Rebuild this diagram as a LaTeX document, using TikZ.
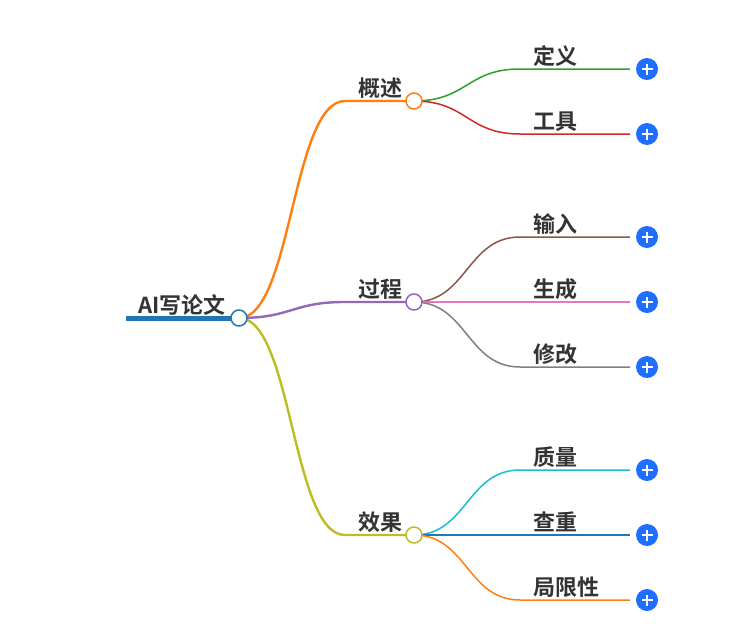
\documentclass[tikz,border=0pt]{standalone}
\usepackage{fontspec}
\setmainfont{Noto Sans CJK SC}[BoldFont={Noto Sans CJK SC Bold}]
\pgfdeclarelayer{links}
\pgfsetlayers{links,main}
\definecolor{c1}{HTML}{1F77B4}
\definecolor{c2}{HTML}{FF7F0E}
\definecolor{c3}{HTML}{2CA02C}
\definecolor{c4}{HTML}{D62728}
\definecolor{c5}{HTML}{9467BD}
\definecolor{c6}{HTML}{8C564B}
\definecolor{c7}{HTML}{E377C2}
\definecolor{c8}{HTML}{7F7F7F}
\definecolor{c9}{HTML}{BCBD22}
\definecolor{c10}{HTML}{17BECF}
\definecolor{btnblue}{HTML}{1E6FFF}
\definecolor{ink}{HTML}{333333}
\tikzset{
  joint/.style={circle,draw=#1,fill=white,line width=1.5pt,minimum size=16pt,inner sep=0pt},
  lab/.style={text=ink,font=\bfseries\fontsize{22}{22}\selectfont,inner sep=0pt},
  plusbtn/.style={circle,fill=btnblue,minimum size=22pt,inner sep=0pt,text=white,
    path picture={\draw[white,line width=2pt] ([xshift=-5.5pt]path picture bounding box.center)--([xshift=5.5pt]path picture bounding box.center);
      \draw[white,line width=2pt] ([yshift=-5.5pt]path picture bounding box.center)--([yshift=5.5pt]path picture bounding box.center);}},
  major/.style={line width=2.4pt,draw=#1},
  minor/.style={line width=1.5pt,draw=#1,shorten >=6pt},
}
\begin{document}
\begin{tikzpicture}[x=1pt,y=-1pt]
\useasboundingbox (0,0) rectangle (755,640);
% hubs
\node[joint=c1] (root) at (239,318) {};
\node[joint=c2] (gs) at (414,101) {};
\node[joint=c5] (gc) at (414,302) {};
\node[joint=c9] (xg) at (414,535) {};
% buttons
\node[plusbtn] (b1) at (647,69) {};
\node[plusbtn] (b2) at (647,134) {};
\node[plusbtn] (b3) at (647,237) {};
\node[plusbtn] (b4) at (647,302) {};
\node[plusbtn] (b5) at (647,367) {};
\node[plusbtn] (b6) at (647,470) {};
\node[plusbtn] (b7) at (647,535) {};
\node[plusbtn] (b8) at (647,600) {};
% free end and elbows
\coordinate (stem) at (126,318);
\coordinate (e1) at (345,101);
\coordinate (e2) at (345,302);
\coordinate (e3) at (345,535);
\coordinate (f1) at (520,69);
\coordinate (f2) at (520,134);
\coordinate (f3) at (520,237);
\coordinate (f5) at (520,367);
\coordinate (f6) at (520,470);
\coordinate (f8) at (520,600);
% connectors, under the hubs
\begin{pgfonlayer}{links}
\fill[white] (0,0) rectangle (755,640);
\draw[line width=5pt,draw=c1] (stem) -- (root.center);
\draw[major=c2] (root.center) .. controls +(53,0) and +(-53,0) .. (e1) -- (gs.center);
\draw[major=c5] (root.center) .. controls +(53,0) and +(-53,0) .. (e2) -- (gc.center);
\draw[major=c9] (root.center) .. controls +(53,0) and +(-53,0) .. (e3) -- (xg.center);
\draw[minor=c3] (gs.center) .. controls +(53,0) and +(-53,0) .. (f1) -- (b1.west);
\draw[minor=c4] (gs.center) .. controls +(53,0) and +(-53,0) .. (f2) -- (b2.west);
\draw[minor=c6] (gc.center) .. controls +(53,0) and +(-53,0) .. (f3) -- (b3.west);
\draw[minor=c7] (gc.center) -- (b4.west);
\draw[minor=c8] (gc.center) .. controls +(53,0) and +(-53,0) .. (f5) -- (b5.west);
\draw[minor=c10] (xg.center) .. controls +(53,0) and +(-53,0) .. (f6) -- (b6.west);
\draw[minor=c1] (xg.center) -- (b7.west);
\draw[minor=c2] (xg.center) .. controls +(53,0) and +(-53,0) .. (f8) -- (b8.west);
\end{pgfonlayer}
% labels
\node[lab] (t0) at (182,305) {AI写论文};
\node[lab] (t1) at (380,88) {概述};
\node[lab] (t2) at (380,289) {过程};
\node[lab] (t3) at (380,522) {效果};
\node[lab,anchor=west] (l1) at (533,56) {定义};
\node[lab,anchor=west] (l2) at (533,122) {工具};
\node[lab,anchor=west] (l3) at (533,224) {输入};
\node[lab,anchor=west] (l4) at (533,289) {生成};
\node[lab,anchor=west] (l5) at (533,354) {修改};
\node[lab,anchor=west] (l6) at (533,457) {质量};
\node[lab,anchor=west] (l7) at (533,522) {查重};
\node[lab,anchor=west] (l8) at (533,587) {局限性};
\end{tikzpicture}
\end{document}
